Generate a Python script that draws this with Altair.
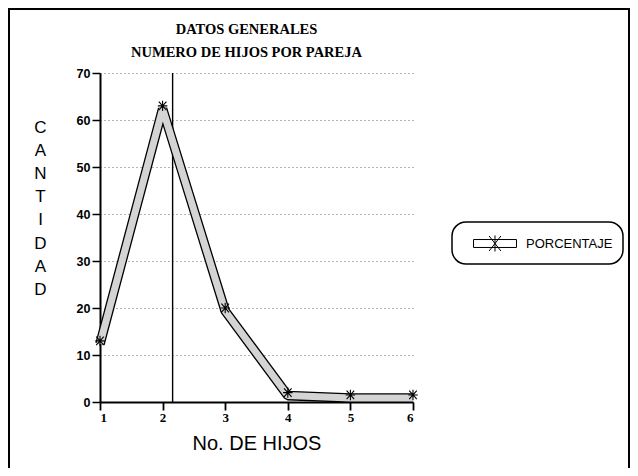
import altair as alt
import pandas as pd

# --- data ---
hijos = [1, 2, 3, 4, 5, 6]
porcentaje = [13, 63, 20, 2, 1.5, 1.5]
serie = ["PORCENTAJE"] * len(hijos)
linea_vertical = [2.16]
y_ticks = [0, 10, 20, 30, 40, 50, 60, 70]
x_ticks = [1, 2, 3, 4, 5, 6]

df = pd.DataFrame({"hijos": hijos, "porcentaje": porcentaje, "serie": serie})
df_v = pd.DataFrame({"x": linea_vertical, "y0": [0], "y1": [70]})

W, H = 313, 329
PAD_L, PAD_T = 92, 65
PAD_R = 638 - 16 - PAD_L - W
PAD_B = 476 - 16 - PAD_T - H

marker_path = "M-0.8,-0.9L0.8,0.9M-0.8,0.9L0.8,-0.9M0,-1.1V1.1M-1,0H1"
legend_path = ("M0,-0.37H4V0.37H0Z"
               "M1.45,-0.7L2.55,0.7M1.45,0.7L2.55,-0.7M2,-0.75V0.75")

x_enc = alt.X("hijos:Q",
              scale=alt.Scale(domain=[1, 6], nice=False, zero=False),
              axis=alt.Axis(values=x_ticks, format="d", title="No. DE HIJOS",
                            grid=False,
                            labelFont="Liberation Serif", labelFontWeight="bold",
                            labelFontSize=13, tickSize=8, tickWidth=1.8,
                            domainWidth=2, labelPadding=1,
                            titleFont="Liberation Sans", titleFontSize=20,
                            titleFontWeight="normal", titlePadding=9,
                            titleColor="black"))
y_enc = alt.Y("porcentaje:Q",
              scale=alt.Scale(domain=[0, 70], nice=False),
              axis=alt.Axis(values=y_ticks,
                            title=["C", "A", "N", "T", "I", "D", "A", "D"],
                            titleAngle=0, titleX=-60, titleY=46,
                            titleAlign="center", titleBaseline="top",
                            titleFont="Liberation Sans", titleFontSize=17,
                            titleFontWeight="normal", titleLineHeight=23.2,
                            titleColor="black",
                            labelFont="Liberation Sans", labelFontWeight="bold",
                            labelFontSize=12.5, tickSize=8, tickWidth=1.5,
                            domainWidth=2, labelPadding=2,
                            grid=True, gridDash=[1, 3], gridColor="#555",
                            gridWidth=0.9))

frame = alt.Chart(df).mark_rect(fill=None, stroke="black", strokeWidth=2).encode(
    x=alt.value(-91), x2=alt.value(W + PAD_R - 1),
    y=alt.value(-64), y2=alt.value(H + PAD_B + 40))

vline = alt.Chart(df_v).mark_rule(color="black", strokeWidth=1.4).encode(
    x=alt.X("x:Q"), y=alt.Y("y0:Q"), y2="y1:Q")

ribbon_out = alt.Chart(df).mark_line(color="black", strokeWidth=9.6,
                                     strokeJoin="bevel", yOffset=3).encode(
    x=x_enc, y=y_enc)
ribbon_in = alt.Chart(df).mark_line(color="#d4d4d4", strokeWidth=7,
                                    strokeJoin="bevel", yOffset=3).encode(
    x="hijos:Q", y="porcentaje:Q")

points = alt.Chart(df).mark_point(shape=marker_path, filled=False, size=90,
                                  strokeWidth=1.1, opacity=1).encode(
    x="hijos:Q", y="porcentaje:Q",
    color=alt.Color("serie:N", scale=alt.Scale(range=["black"]),
                    legend=alt.Legend(title=None, orient="none",
                                      legendX=352, legendY=149,
                                      symbolType=legend_path, symbolSize=462,
                                      symbolFillColor="#d4d4d4",
                                      symbolStrokeColor="black",
                                      symbolStrokeWidth=1,
                                      labelFont="Liberation Sans",
                                      labelFontSize=13, labelColor="black",
                                      labelOffset=41, padding=10,
                                      strokeColor="black", cornerRadius=14)))

chart = alt.layer(frame, vline, ribbon_out, ribbon_in, points).properties(
    width=W, height=H,
    autosize=alt.AutoSizeParams(type="none"),
    padding={"left": PAD_L, "top": PAD_T, "right": PAD_R, "bottom": PAD_B},
    title=alt.Title(["DATOS GENERALES", "NUMERO DE HIJOS POR PAREJA"],
                    font="Liberation Serif", fontSize=14.5, fontWeight="bold",
                    lineHeight=23, anchor="middle", dx=-10, dy=66, offset=14,
                    color="black"),
).configure_view(stroke=None).configure_axis(
    domainColor="black", tickColor="black", labelColor="black"
).configure_legend(strokeWidth=1.5)

chart.save("out.html", embed_options={"renderer": "svg", "actions": False})
